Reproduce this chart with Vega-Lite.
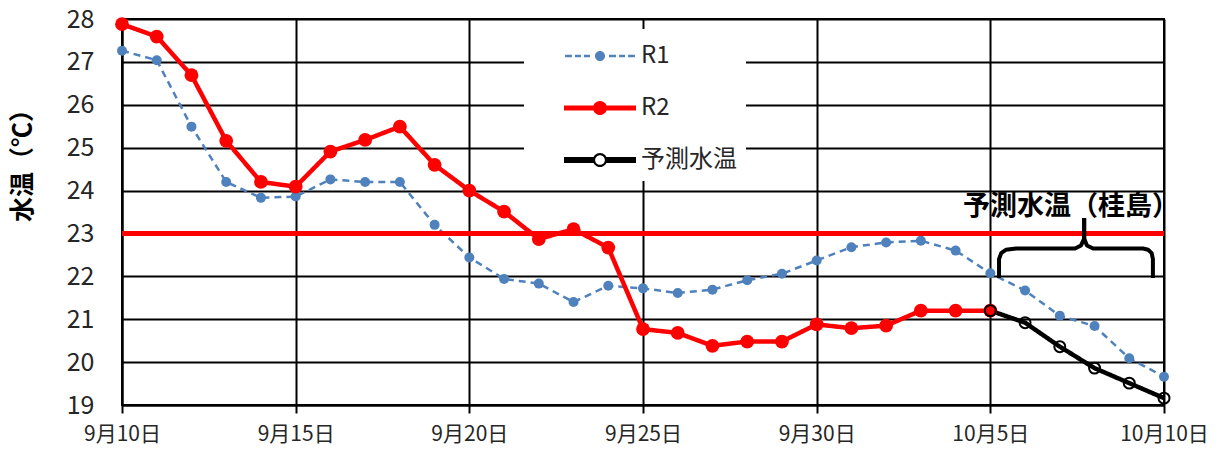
{
  "$schema": "https://vega.github.io/schema/vega-lite/v6.json",
  "width": 1042,
  "height": 386,
  "autosize": "none",
  "padding": {"left": 122, "top": 19, "right": 56, "bottom": 50},
  "background": "white",
  "config": {
    "font": "Noto Sans CJK JP",
    "view": {"stroke": "black", "strokeWidth": 2},
    "axis": {"gridColor": "black", "gridWidth": 2, "gridOpacity": 1, "domainColor": "black", "domainWidth": 2, "labelColor": "#262626", "labelFont": "Noto Sans CJK JP"}
  },
  "datasets": {
    "temps": [
      {"date": "2020-09-10T00:00:00Z", "series": "R1", "temp": 27.26},
      {"date": "2020-09-11T00:00:00Z", "series": "R1", "temp": 27.04},
      {"date": "2020-09-12T00:00:00Z", "series": "R1", "temp": 25.49},
      {"date": "2020-09-13T00:00:00Z", "series": "R1", "temp": 24.2},
      {"date": "2020-09-14T00:00:00Z", "series": "R1", "temp": 23.83},
      {"date": "2020-09-15T00:00:00Z", "series": "R1", "temp": 23.86},
      {"date": "2020-09-16T00:00:00Z", "series": "R1", "temp": 24.26},
      {"date": "2020-09-17T00:00:00Z", "series": "R1", "temp": 24.2},
      {"date": "2020-09-18T00:00:00Z", "series": "R1", "temp": 24.2},
      {"date": "2020-09-19T00:00:00Z", "series": "R1", "temp": 23.2},
      {"date": "2020-09-20T00:00:00Z", "series": "R1", "temp": 22.44},
      {"date": "2020-09-21T00:00:00Z", "series": "R1", "temp": 21.94},
      {"date": "2020-09-22T00:00:00Z", "series": "R1", "temp": 21.83},
      {"date": "2020-09-23T00:00:00Z", "series": "R1", "temp": 21.4},
      {"date": "2020-09-24T00:00:00Z", "series": "R1", "temp": 21.78},
      {"date": "2020-09-25T00:00:00Z", "series": "R1", "temp": 21.72},
      {"date": "2020-09-26T00:00:00Z", "series": "R1", "temp": 21.61},
      {"date": "2020-09-27T00:00:00Z", "series": "R1", "temp": 21.69},
      {"date": "2020-09-28T00:00:00Z", "series": "R1", "temp": 21.91},
      {"date": "2020-09-29T00:00:00Z", "series": "R1", "temp": 22.06},
      {"date": "2020-09-30T00:00:00Z", "series": "R1", "temp": 22.37},
      {"date": "2020-10-01T00:00:00Z", "series": "R1", "temp": 22.68},
      {"date": "2020-10-02T00:00:00Z", "series": "R1", "temp": 22.79},
      {"date": "2020-10-03T00:00:00Z", "series": "R1", "temp": 22.83},
      {"date": "2020-10-04T00:00:00Z", "series": "R1", "temp": 22.6},
      {"date": "2020-10-05T00:00:00Z", "series": "R1", "temp": 22.07},
      {"date": "2020-10-06T00:00:00Z", "series": "R1", "temp": 21.67},
      {"date": "2020-10-07T00:00:00Z", "series": "R1", "temp": 21.08},
      {"date": "2020-10-08T00:00:00Z", "series": "R1", "temp": 20.84},
      {"date": "2020-10-09T00:00:00Z", "series": "R1", "temp": 20.09},
      {"date": "2020-10-10T00:00:00Z", "series": "R1", "temp": 19.66},
      {"date": "2020-09-10T00:00:00Z", "series": "R2", "temp": 27.88},
      {"date": "2020-09-11T00:00:00Z", "series": "R2", "temp": 27.59},
      {"date": "2020-09-12T00:00:00Z", "series": "R2", "temp": 26.69},
      {"date": "2020-09-13T00:00:00Z", "series": "R2", "temp": 25.16},
      {"date": "2020-09-14T00:00:00Z", "series": "R2", "temp": 24.2},
      {"date": "2020-09-15T00:00:00Z", "series": "R2", "temp": 24.09},
      {"date": "2020-09-16T00:00:00Z", "series": "R2", "temp": 24.91},
      {"date": "2020-09-17T00:00:00Z", "series": "R2", "temp": 25.18},
      {"date": "2020-09-18T00:00:00Z", "series": "R2", "temp": 25.49},
      {"date": "2020-09-19T00:00:00Z", "series": "R2", "temp": 24.6},
      {"date": "2020-09-20T00:00:00Z", "series": "R2", "temp": 24.0},
      {"date": "2020-09-21T00:00:00Z", "series": "R2", "temp": 23.51},
      {"date": "2020-09-22T00:00:00Z", "series": "R2", "temp": 22.87},
      {"date": "2020-09-23T00:00:00Z", "series": "R2", "temp": 23.1},
      {"date": "2020-09-24T00:00:00Z", "series": "R2", "temp": 22.67},
      {"date": "2020-09-25T00:00:00Z", "series": "R2", "temp": 20.77},
      {"date": "2020-09-26T00:00:00Z", "series": "R2", "temp": 20.68},
      {"date": "2020-09-27T00:00:00Z", "series": "R2", "temp": 20.38},
      {"date": "2020-09-28T00:00:00Z", "series": "R2", "temp": 20.48},
      {"date": "2020-09-29T00:00:00Z", "series": "R2", "temp": 20.48},
      {"date": "2020-09-30T00:00:00Z", "series": "R2", "temp": 20.88},
      {"date": "2020-10-01T00:00:00Z", "series": "R2", "temp": 20.79},
      {"date": "2020-10-02T00:00:00Z", "series": "R2", "temp": 20.85},
      {"date": "2020-10-03T00:00:00Z", "series": "R2", "temp": 21.2},
      {"date": "2020-10-04T00:00:00Z", "series": "R2", "temp": 21.2},
      {"date": "2020-10-05T00:00:00Z", "series": "R2", "temp": 21.2},
      {"date": "2020-10-05T00:00:00Z", "series": "予測水温", "temp": 21.2},
      {"date": "2020-10-06T00:00:00Z", "series": "予測水温", "temp": 20.92},
      {"date": "2020-10-07T00:00:00Z", "series": "予測水温", "temp": 20.36},
      {"date": "2020-10-08T00:00:00Z", "series": "予測水温", "temp": 19.86},
      {"date": "2020-10-09T00:00:00Z", "series": "予測水温", "temp": 19.51},
      {"date": "2020-10-10T00:00:00Z", "series": "予測水温", "temp": 19.16}
    ],
    "brace": [
      {"part": "left", "step": 1, "date": "2020-10-05T06:00:00Z", "temp": 21.96},
      {"part": "left", "step": 2, "date": "2020-10-05T06:00:00Z", "temp": 22.4},
      {"part": "left", "step": 3, "date": "2020-10-05T07:30:00Z", "temp": 22.54},
      {"part": "left", "step": 4, "date": "2020-10-05T10:45:00Z", "temp": 22.62},
      {"part": "left", "step": 5, "date": "2020-10-05T17:45:00Z", "temp": 22.65},
      {"part": "left", "step": 6, "date": "2020-10-07T10:30:00Z", "temp": 22.65},
      {"part": "left", "step": 7, "date": "2020-10-07T14:40:00Z", "temp": 22.72},
      {"part": "left", "step": 8, "date": "2020-10-07T16:50:00Z", "temp": 22.88},
      {"part": "left", "step": 9, "date": "2020-10-07T16:50:00Z", "temp": 23.36},
      {"part": "right", "step": 1, "date": "2020-10-07T16:50:00Z", "temp": 23.36},
      {"part": "right", "step": 2, "date": "2020-10-07T16:50:00Z", "temp": 22.88},
      {"part": "right", "step": 3, "date": "2020-10-07T18:45:00Z", "temp": 22.72},
      {"part": "right", "step": 4, "date": "2020-10-07T23:00:00Z", "temp": 22.65},
      {"part": "right", "step": 5, "date": "2020-10-09T09:35:00Z", "temp": 22.65},
      {"part": "right", "step": 6, "date": "2020-10-09T13:00:00Z", "temp": 22.62},
      {"part": "right", "step": 7, "date": "2020-10-09T15:30:00Z", "temp": 22.54},
      {"part": "right", "step": 8, "date": "2020-10-09T16:20:00Z", "temp": 22.4},
      {"part": "right", "step": 9, "date": "2020-10-09T16:20:00Z", "temp": 21.96}
    ]
  },
  "data": {"name": "temps"},
  "encoding": {
    "x": {
      "field": "date", "type": "temporal",
      "scale": {"type": "utc", "nice": false, "domain": [{"year": 2020, "month": "sep", "date": 10, "utc": true}, {"year": 2020, "month": "oct", "date": 10, "utc": true}]},
      "axis": {
        "title": null,
        "values": [
          {"year": 2020, "month": "sep", "date": 10, "utc": true},
          {"year": 2020, "month": "sep", "date": 15, "utc": true},
          {"year": 2020, "month": "sep", "date": 20, "utc": true},
          {"year": 2020, "month": "sep", "date": 25, "utc": true},
          {"year": 2020, "month": "sep", "date": 30, "utc": true},
          {"year": 2020, "month": "oct", "date": 5, "utc": true},
          {"year": 2020, "month": "oct", "date": 10, "utc": true}
        ],
        "format": "%-m月%-d日",
        "labelFontSize": 21,
        "labelPadding": 10,
        "tickSize": 8, "tickWidth": 2, "tickColor": "black",
        "labelFlush": false, "labelOverlap": false
      }
    },
    "y": {
      "field": "temp", "type": "quantitative",
      "scale": {"domain": [19, 28], "nice": false, "zero": false},
      "axis": {
        "title": "水温（℃）",
        "titleFontSize": 25, "titleFontWeight": "bold", "titleColor": "black",
        "titleX": -100, "titleY": 140, "titleAlign": "center", "titleBaseline": "middle", "titleAngle": -90,
        "values": [19, 20, 21, 22, 23, 24, 25, 26, 27, 28],
        "labelFontSize": 25, "labelPadding": 28, "ticks": false
      }
    }
  },
  "layer": [
    {
      "mark": {"type": "line", "strokeJoin": "round"},
      "encoding": {
        "color": {
          "field": "series", "type": "nominal",
          "scale": {"domain": ["R1", "R2", "予測水温"], "range": ["#4F81BD", "#FF0000", "#000000"]},
          "legend": {
            "title": null,
            "orient": "none",
            "legendX": 402,
            "legendY": 10,
            "fillColor": "white",
            "padding": 9,
            "symbolSize": 1296,
            "rowPadding": 22,
            "labelFontSize": 24,
            "labelColor": "#262626",
            "labelOffset": 23,
            "symbolOffset": 49,
            "encode": {
              "symbols": {
                "update": {
                  "shape": {"signal": "datum.value === 'R1' ? 'M-1.94,-0.07H-1.56V0.07H-1.94Z M-1.39,-0.07H-1.06V0.07H-1.39Z M-0.89,-0.07H-0.56V0.07H-0.89Z M0.5,-0.07H0.89V0.07H0.5Z M1.06,-0.07H1.39V0.07H1.06Z M1.56,-0.07H1.94V0.07H1.56Z M0.28,0A0.28,0.28,0,1,1,-0.28,0A0.28,0.28,0,1,1,0.28,0Z' : datum.value === 'R2' ? 'M-2,-0.14H2V0.14H-2Z M0.39,0A0.39,0.39,0,1,1,-0.39,0A0.39,0.39,0,1,1,0.39,0Z' : 'M-2,-0.17H-0.33V0.17H-2Z M0.33,-0.17H2V0.17H0.33Z M0.39,0A0.39,0.39,0,1,1,-0.39,0A0.39,0.39,0,1,1,0.39,0Z M0.27,0A0.27,0.27,0,1,0,-0.27,0A0.27,0.27,0,1,0,0.27,0Z'"},
                  "fill": {"signal": "datum.value === 'R1' ? '#4F81BD' : datum.value === 'R2' ? '#FF0000' : '#000000'"},
                  "fillOpacity": {"value": 1},
                  "opacity": {"value": 1},
                  "strokeWidth": {"value": 0},
                  "size": {"value": 1296}
                }
              }
            }
          }
        },
        "strokeWidth": {"condition": {"test": "datum.series === 'R1'", "value": 2.5}, "value": 4.5},
        "strokeDash": {"condition": {"test": "datum.series === 'R1'", "value": [7, 5]}, "value": [1, 0]}
      }
    },
    {
      "transform": [{"filter": "datum.series !== '予測水温'"}],
      "mark": {"type": "point", "filled": true, "opacity": 1},
      "encoding": {
        "color": {"field": "series", "type": "nominal", "legend": null},
        "size": {"condition": {"test": "datum.series === 'R1'", "value": 100}, "value": 190}
      }
    },
    {
      "transform": [{"filter": "datum.series === '予測水温'"}],
      "mark": {"type": "point", "filled": false, "opacity": 1, "color": "black", "strokeWidth": 2, "size": 120}
    },
    {
      "data": {"values": [{"threshold": 23}]},
      "mark": {"type": "rule", "color": "#FF0000", "strokeWidth": 5},
      "encoding": {"x": null, "y": {"field": "threshold", "type": "quantitative"}}
    },
    {
      "data": {"name": "brace"},
      "mark": {"type": "line", "color": "black", "strokeWidth": 4, "strokeJoin": "round", "strokeCap": "butt"},
      "encoding": {
        "detail": {"field": "part", "type": "nominal"},
        "order": {"field": "step", "type": "quantitative"}
      }
    },
    {
      "data": {"values": [{"date": "2020-10-10T00:00:00Z", "temp": 23.62, "label": "予測水温（桂島）"}]},
      "mark": {"type": "text", "align": "right", "baseline": "middle", "fontSize": 27, "fontWeight": "bold", "color": "black", "dx": 15},
      "encoding": {"text": {"field": "label", "type": "nominal"}}
    }
  ]
}
